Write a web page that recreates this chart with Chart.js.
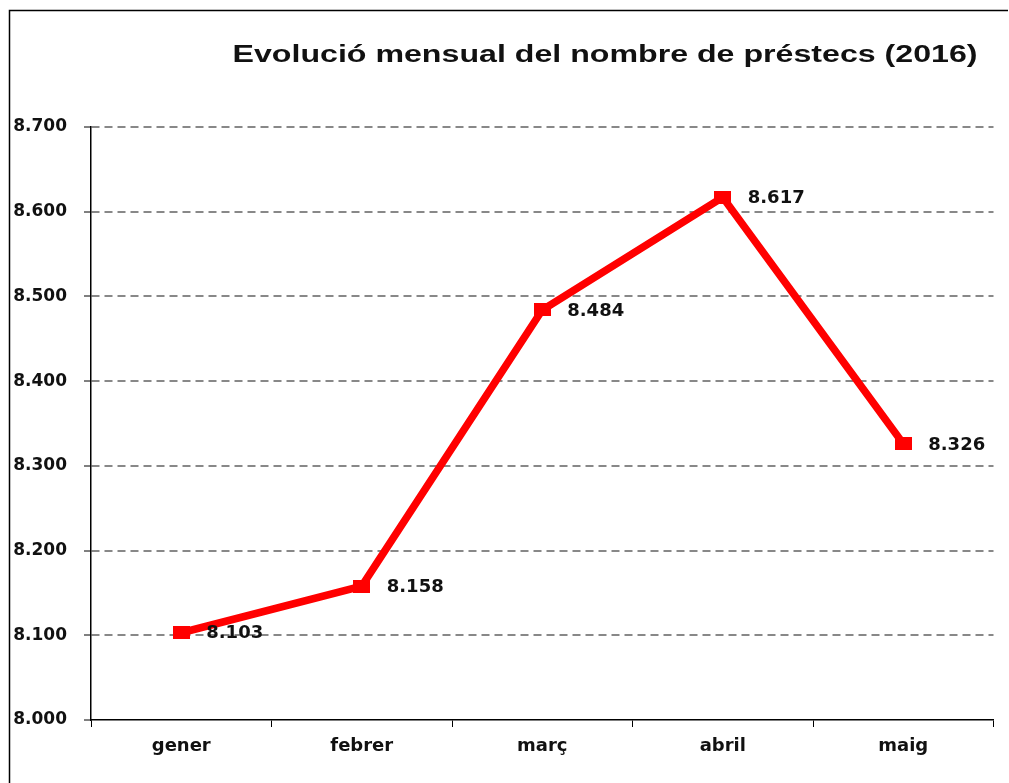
<!DOCTYPE html>
<html>
<head>
<meta charset="utf-8">
<script src="https://cdn.jsdelivr.net/npm/chart.js@4"></script>
<style>
  html, body { margin: 0; padding: 0; background: #fff; }
  #wrap { width: 1009px; height: 783px; position: relative; }
</style>
</head>
<body>
<div id="wrap"><canvas id="chart"></canvas></div>
<script>
// chart data
const titleText = 'Evolució mensual del nombre de préstecs (2016)';
const months = ['gener', 'febrer', 'març', 'abril', 'maig'];
const loans = [8103, 8158, 8484, 8617, 8326];
const yMin = 8000;
const yMax = 8700;
const yStep = 100;

// 8700 -> "8.700"
function fmt(v) {
    return Math.floor(v / 1000) + '.' + String(v % 1000).padStart(3, '0');
}

// square marker, a bit wider than tall like the original
const marker = document.createElement('canvas');
marker.width = 17;
marker.height = 13;
const mctx = marker.getContext('2d');
mctx.fillStyle = '#ff0000';
mctx.fillRect(0, 0, 17, 13);

const frameAndLabels = {
    id: 'frameAndLabels',
    beforeDraw(chart) {
        // chart frame: only top and left edges show in the crop
        const ctx = chart.ctx;
        ctx.save();
        ctx.strokeStyle = '#000';
        ctx.lineWidth = 1.5;
        ctx.beginPath();
        ctx.moveTo(9.5, 783);
        ctx.lineTo(9.5, 10.5);
        ctx.lineTo(1008, 10.5);
        ctx.stroke();
        ctx.restore();
    },
    afterDraw(chart) {
        const ctx = chart.ctx;
        ctx.save();
        ctx.fillStyle = '#111';
        // the original title is a stretched Arial bold, about 745px wide
        ctx.font = 'bold 23px "Liberation Sans"';
        ctx.textAlign = 'center';
        ctx.textBaseline = 'middle';
        const w = ctx.measureText(titleText).width;
        ctx.translate(605, 56);
        ctx.scale(745 / w, 1);
        ctx.fillText(titleText, 0, 0);
        ctx.restore();

        // value labels right of each point
        ctx.save();
        ctx.fillStyle = '#111';
        ctx.font = 'bold 18px "DejaVu Sans"';
        ctx.textAlign = 'left';
        ctx.textBaseline = 'middle';
        const meta = chart.getDatasetMeta(0);
        meta.data.forEach((pt, i) => {
            ctx.fillText(fmt(loans[i]), pt.x + 25, pt.y + 1);
        });
        ctx.restore();
    }
};

function createChart() {
    const ctx = document.getElementById('chart').getContext('2d');
    new Chart(ctx, {
        type: 'line',
        data: {
            labels: months,
            datasets: [{
                data: loans,
                borderColor: '#ff0000',
                borderWidth: 7.5,
                tension: 0,
                pointStyle: marker,
                pointRadius: 8
            }]
        },
        options: {
            responsive: true,
            maintainAspectRatio: false,
            animation: false,
            layout: { padding: { top: 127, right: 12, bottom: 0, left: 0 } },
            plugins: {
                legend: { display: false },
                tooltip: { enabled: false }
            },
            scales: {
                x: {
                    offset: true,
                    grid: {
                        offset: true,
                        drawOnChartArea: false,
                        tickLength: 7,
                        tickColor: '#000',
                        tickWidth: 1
                    },
                    border: { color: '#000', width: 1.5 },
                    ticks: {
                        color: '#111',
                        padding: 9,
                        font: { family: 'DejaVu Sans', size: 18, weight: 'bold' }
                    },
                    afterFit(scale) { scale.height = 63; }
                },
                y: {
                    min: yMin,
                    max: yMax,
                    grid: {
                        // no dashed line on top of the x axis
                        color: c => (c.tick && c.tick.value === yMin) ? 'rgba(0,0,0,0)' : '#888',
                        lineWidth: 2,
                        tickLength: 7,
                        tickColor: '#000',
                        tickWidth: 1,
                        tickBorderDash: []
                    },
                    border: { color: '#000', width: 1.5, dash: [8, 5] },
                    ticks: {
                        stepSize: yStep,
                        color: '#111',
                        padding: 17,
                        font: { family: 'DejaVu Sans', size: 17, weight: 'bold' },
                        callback: v => fmt(v)
                    },
                    afterFit(scale) { scale.width = 91; }
                }
            }
        },
        plugins: [frameAndLabels]
    });
}

createChart();
</script>
</body>
</html>
